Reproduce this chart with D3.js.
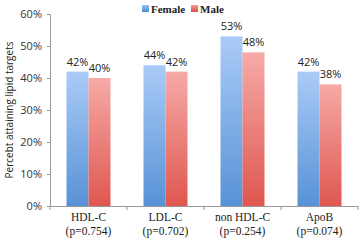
<!DOCTYPE html>
<html>
<head>
<meta charset="utf-8">
<script src="https://cdn.jsdelivr.net/npm/d3@7"></script>
<style>
  body { margin: 0; background: #fff; }
  svg { display: block; }
</style>
</head>
<body>
<div id="chart"></div>
<script>
// data
const categories = ["HDL-C", "LDL-C", "non HDL-C", "ApoB"];
const pValues = ["(p=0.754)", "(p=0.702)", "(p=0.254)", "(p=0.074)"];
const female = [42, 44, 53, 42];
const male = [40, 42, 48, 38];
const yTicks = [0, 10, 20, 30, 40, 50, 60];

const W = 360, H = 240;
const margin = { top: 14, right: 2, bottom: 34, left: 50 };
const width = W - margin.left - margin.right;
const height = H - margin.top - margin.bottom;

const svg = d3.select("#chart").append("svg")
  .attr("width", W)
  .attr("height", H);

// gradients
const defs = svg.append("defs");
function grad(id, top, bottom) {
  const g = defs.append("linearGradient")
    .attr("id", id)
    .attr("x1", 0).attr("y1", 0).attr("x2", 0).attr("y2", 1);
  g.append("stop").attr("offset", "0%").attr("stop-color", top);
  g.append("stop").attr("offset", "100%").attr("stop-color", bottom);
}
grad("gFemale", "#aacbf7", "#5892d6");
grad("gMale", "#f6aaa7", "#df5750");
grad("gFemaleSw", "#9cc2f2", "#4f8ad3");
grad("gMaleSw", "#f39b97", "#dc4e47");

const g = svg.append("g")
  .attr("transform", `translate(${margin.left},${margin.top})`);

const x = d3.scaleBand()
  .domain(categories)
  .range([0, width]);

const y = d3.scaleLinear()
  .domain([0, 60])
  .range([height, 0]);

const barW = 22;

// y axis
const yAxis = g.append("g")
  .call(d3.axisLeft(y).tickValues(yTicks).tickFormat(d => d + "%").tickSize(3));
yAxis.select(".domain").attr("stroke", "#999");
yAxis.selectAll(".tick line").attr("stroke", "#999");
yAxis.selectAll(".tick text")
  .attr("x", -8)
  .attr("fill", "#333")
  .style("font-family", "'Open Sans', sans-serif")
  .style("font-size", "11px");

// x axis
const xAxis = g.append("g")
  .attr("transform", `translate(0,${height})`)
  .call(d3.axisBottom(x).tickSize(0).tickFormat(""));
xAxis.select(".domain").attr("stroke", "#999");
xAxis.selectAll(".tick").remove();
xAxis.selectAll(".sep")
  .data(d3.range(categories.length + 1))
  .enter().append("line")
  .attr("x1", i => i * x.bandwidth())
  .attr("x2", i => i * x.bandwidth())
  .attr("y1", 0).attr("y2", 4)
  .attr("stroke", "#999");

// bars
const groups = g.selectAll(".grp")
  .data(categories)
  .enter().append("g")
  .attr("transform", d => `translate(${x(d) + x.bandwidth() / 2},0)`);

groups.append("rect")
  .attr("x", -barW)
  .attr("y", (d, i) => y(female[i]))
  .attr("width", barW)
  .attr("height", (d, i) => height - y(female[i]))
  .attr("fill", "url(#gFemale)");

groups.append("rect")
  .attr("x", 0)
  .attr("y", (d, i) => y(male[i]))
  .attr("width", barW)
  .attr("height", (d, i) => height - y(male[i]))
  .attr("fill", "url(#gMale)");

// value labels
const labelFont = "'Open Sans', sans-serif";
groups.append("text")
  .attr("x", -barW / 2)
  .attr("y", (d, i) => y(female[i]) - 6)
  .attr("text-anchor", "middle")
  .attr("fill", "#222")
  .style("font-family", labelFont)
  .style("font-size", "11px")
  .text((d, i) => female[i] + "%");

groups.append("text")
  .attr("x", barW / 2)
  .attr("y", (d, i) => y(male[i]) - 6)
  .attr("text-anchor", "middle")
  .attr("fill", "#222")
  .style("font-family", labelFont)
  .style("font-size", "11px")
  .text((d, i) => male[i] + "%");

// category labels
const catFont = "'Liberation Serif', 'DejaVu Serif', serif";
groups.append("text")
  .attr("y", height + 15)
  .attr("text-anchor", "middle")
  .attr("fill", "#222")
  .style("font-family", catFont)
  .style("font-size", "11.5px")
  .text(d => d);

groups.append("text")
  .attr("y", height + 29)
  .attr("text-anchor", "middle")
  .attr("fill", "#222")
  .style("font-family", catFont)
  .style("font-size", "11.5px")
  .text((d, i) => pValues[i]);

// y axis title
svg.append("text")
  .attr("transform", `translate(13,${margin.top + height / 2}) rotate(-90)`)
  .attr("text-anchor", "middle")
  .attr("fill", "#222")
  .style("font-family", "'Open Sans', sans-serif")
  .style("font-size", "10px")
  .text("Percebt attaining lipid targets");

// legend
const legend = svg.append("g").attr("transform", "translate(142,2)");
const legendItems = [
  { name: "Female", fill: "url(#gFemaleSw)", x: 0 },
  { name: "Male", fill: "url(#gMaleSw)", x: 49 }
];
legendItems.forEach(it => {
  legend.append("rect")
    .attr("x", it.x).attr("y", 3)
    .attr("width", 7).attr("height", 7)
    .attr("fill", it.fill);
  legend.append("text")
    .attr("x", it.x + 9).attr("y", 11)
    .attr("fill", "#222")
    .style("font-family", catFont)
    .style("font-weight", "bold")
    .style("font-size", "11px")
    .text(it.name);
});
</script>
</body>
</html>
